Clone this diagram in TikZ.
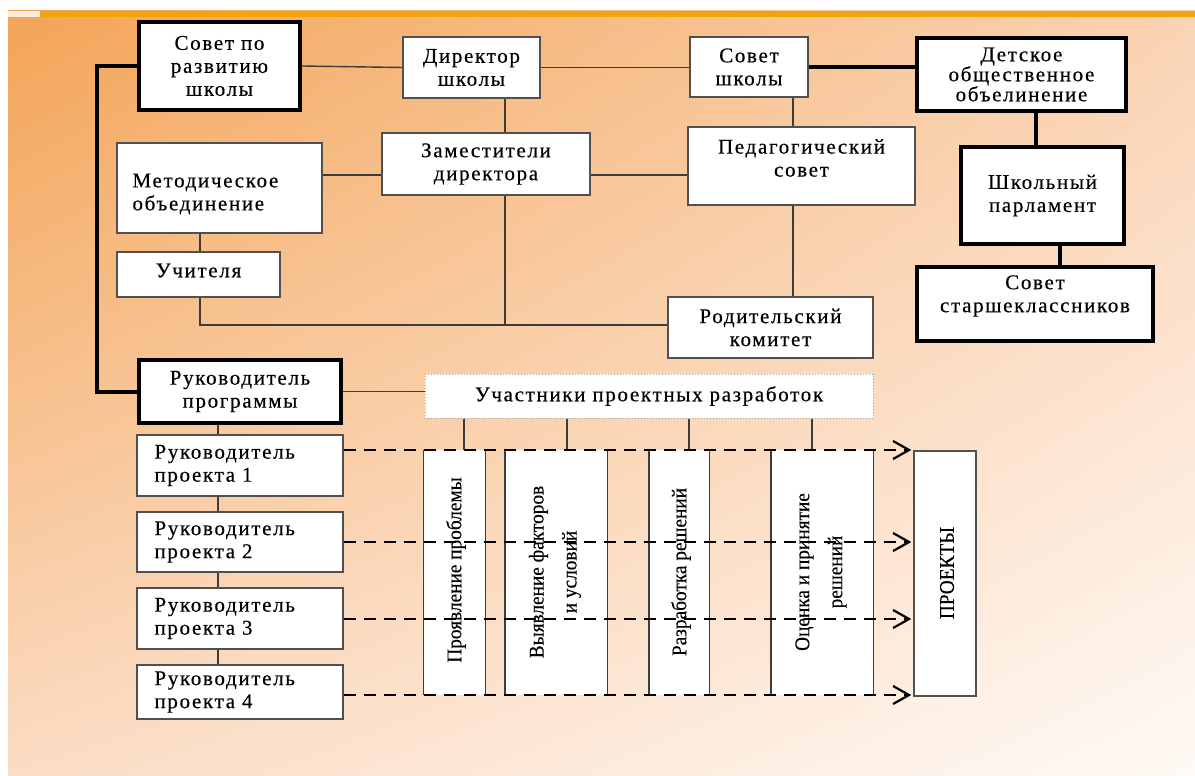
\documentclass[tikz,border=0pt]{standalone}
\usepackage{fontspec}
\setmainfont{Liberation Serif}[LetterSpace=8,FakeBold=0.4]
\newfontfamily\vfont{Liberation Serif}[FakeStretch=0.92,FakeBold=0.2]
\usetikzlibrary{arrows.meta,shadings}
\definecolor{bgTL}{RGB}{243,164,86}
\definecolor{bgTR}{RGB}{250,211,180}
\definecolor{bgBL}{RGB}{251,220,196}
\definecolor{bgBR}{RGB}{255,250,246}
\definecolor{stripO}{RGB}{240,165,12}
\definecolor{stripL}{RGB}{247,234,220}
\definecolor{edge}{RGB}{80,80,80}
\definecolor{lineg}{RGB}{60,60,60}
\begin{document}
\begin{tikzpicture}[x=1pt,y=-1pt,
  every node/.style={font=\fontsize{21}{23}\selectfont, inner sep=0pt},
  box/.style={draw=edge, line width=1.4pt, fill=white, align=center},
  tbox/.style={box, draw=black, line width=4pt},
  ln/.style={draw=lineg, line width=1.4pt},
  tk/.style={draw=black, line width=4pt},
  dsh/.style={draw=black, line width=2.4pt, dash pattern=on 12pt off 8pt,
     -{Straight Barb[length=16pt,width=18pt,line width=2.2pt]}},
  colbox/.style={fill=white, draw=none},
  vtext/.style={rotate=90, align=center, font=\vfont\fontsize{21}{33}\selectfont},
  txt/.style={align=center},
  ltxt/.style={align=left, anchor=west}
]
\useasboundingbox (0,0) rectangle (1195,776);
% background
\fill[white] (0,0) rectangle (1195,776);
\shade[upper left=bgTL, upper right=bgTR, lower left=bgBL, lower right=bgBR] (8,11) rectangle (1195,776);
\fill[stripO] (40,11) rectangle (1195,17);
\fill[stripL] (8,11) rectangle (40,17);

% top boxes
\node[tbox, minimum width=161pt, minimum height=88pt] (rsov) at (219.5,66) {Совет по\\развитию\\школы};
\node[box, minimum width=137pt, minimum height=61pt] (dir) at (471.5,67.5) {Директор\\школы};
\node[box, minimum width=118pt, minimum height=60pt] (ssov) at (749,67) {Совет\\школы};
\node[tbox, minimum width=209pt, minimum height=73pt, font=\fontsize{21}{20}\selectfont] (det) at (1021.5,74.5) {Детское\\общественное\\объелинение};
\node[box, minimum width=208pt, minimum height=62pt] (zam) at (486,164) {Заместители\\директора};
\node[box, minimum width=227pt, minimum height=78pt] (ped) at (801.5,166) {};
\node[txt] (pedt) at ([yshift=8pt]ped.center) {Педагогический\\совет};
\node[box, minimum width=205pt, minimum height=90pt] (met) at (219.5,188) {};
\node[ltxt] (mett) at ([xshift=16pt,yshift=-6pt]met.west) {Методическое\\объединение};
\node[tbox, minimum width=163pt, minimum height=97pt] (shp) at (1042.5,195.5) {Школьный\\парламент};
\node[box, minimum width=163pt, minimum height=45pt] (uch) at (198.5,274.5) {};
\node[txt] (ucht) at ([yshift=4pt]uch.center) {Учителя};
\node[tbox, minimum width=236pt, minimum height=74pt] (sst) at (1035,304) {};
\node[txt] (sstt) at ([yshift=8pt]sst.center) {Совет\\старшеклассников};
\node[box, minimum width=205pt, minimum height=61pt] (rod) at (770.5,327.5) {Родительский\\комитет};
\node[tbox, minimum width=202pt, minimum height=63pt] (rprog) at (240,391.5) {Руководитель\\программы};
\node[box, draw=gray!70, line width=1pt, dotted, minimum width=448pt, minimum height=44pt] (uchast) at (649,396) {Участники проектных разработок};

% project leaders
\node[box, minimum width=206pt, minimum height=61pt] (p1) at (240,465.5) {};
\node[box, minimum width=206pt, minimum height=60pt] (p2) at (240,542) {};
\node[box, minimum width=206pt, minimum height=61pt] (p3) at (240,618.5) {};
\node[box, minimum width=206pt, minimum height=54pt] (p4) at (240,692) {};
\node[ltxt] (p1t) at ([xshift=18pt]p1.west) {Руководитель\\проекта 1};
\node[ltxt] (p2t) at ([xshift=18pt]p2.west) {Руководитель\\проекта 2};
\node[ltxt] (p3t) at ([xshift=18pt]p3.west) {Руководитель\\проекта 3};
\node[ltxt] (p4t) at ([xshift=18pt]p4.west) {Руководитель\\проекта 4};

% columns
\node[colbox, minimum width=62pt, minimum height=245pt] (c1) at (454.5,572.5) {};
\node[colbox, minimum width=102pt, minimum height=245pt] (c2) at (556,572.5) {};
\node[colbox, minimum width=60pt, minimum height=245pt] (c3) at (679,572.5) {};
\node[colbox, minimum width=102pt, minimum height=245pt] (c4) at (822,572.5) {};
\node[box, minimum width=62pt, minimum height=245pt] (proj) at (945,573.5) {};
\foreach \c in {c1,c2,c3,c4}{
  \draw[ln] (\c.north west) -- (\c.south west);
  \draw[ln] (\c.north east) -- (\c.south east);
}
\node[vtext] (t1) at (456,570) {Проявление проблемы};
\node[vtext] (t2) at (555,572) {Выявление факторов\\и условий};
\node[vtext] (t3) at (681,572) {Разработка решений};
\node[vtext] (t4) at (821,572) {Оценка и принятие\\решений};
\node[vtext] (t5) at (947,573) {ПРОЕКТЫ};

% coordinates
\coordinate (k) at (97,0);
\coordinate (xa) at (505,0);
\coordinate (xb) at (793,0);
\coordinate (xc) at (200,0);
\coordinate (xd) at (1036,0);
\coordinate (xe) at (1060,0);
\coordinate (vx) at (218,0);
\coordinate (ya) at (0,175);
\coordinate (yb) at (0,325);
\coordinate (d1) at (0,450);
\coordinate (d2) at (0,542);
\coordinate (d3) at (0,619);
\coordinate (d4) at (0,695);
\coordinate (u1) at (464,450);
\coordinate (u2) at (567,450);
\coordinate (u3) at (689,450);
\coordinate (u4) at (812,450);

% connectors
\draw[ln] (rsov.east) -- (dir.west);
\draw[ln] (dir.east) -- (ssov.west |- dir.east);
\draw[tk] (ssov.east) -- (ssov.east -| det.west);
\draw[ln] (dir.south -| xa) -- (zam.north -| xa);
\draw[ln] (ssov.south -| xb) -- (ped.north -| xb);
\draw[ln] (ped.south -| xb) -- (rod.north -| xb);
\draw[ln] (met.east |- ya) -- (zam.west |- ya);
\draw[ln] (zam.east |- ya) -- (ped.west |- ya);
\draw[ln] (met.south -| xc) -- (uch.north -| xc);
\draw[ln] (uch.south -| xc) |- (rod.west |- yb);
\draw[ln] (zam.south -| xa) -- (xa |- yb);
\draw[tk] (det.south -| xd) -- (shp.north -| xd);
\draw[tk] (shp.south -| xe) -- (sst.north -| xe);
\draw[tk] (rsov.west) -- (rsov.west -| k) |- (rprog.west);
\draw[ln] (rprog.east) -- (rprog.east -| uchast.west);
\draw[ln] (rprog.south -| vx) -- (p1.north -| vx);
\draw[ln] (p1.south -| vx) -- (p2.north -| vx);
\draw[ln] (p2.south -| vx) -- (p3.north -| vx);
\draw[ln] (p3.south -| vx) -- (p4.north -| vx);
\foreach \u in {u1,u2,u3,u4}{
  \draw[ln] (\u |- uchast.south) -- (\u);
}
\draw[dsh] (p1.east |- d1) -- ([xshift=-2pt]proj.west |- d1);
\draw[dsh] (p2.east |- d2) -- ([xshift=-2pt]proj.west |- d2);
\draw[dsh] (p3.east |- d3) -- ([xshift=-2pt]proj.west |- d3);
\draw[dsh] (p4.east |- d4) -- ([xshift=-2pt]proj.west |- d4);
\end{tikzpicture}
\end{document}
